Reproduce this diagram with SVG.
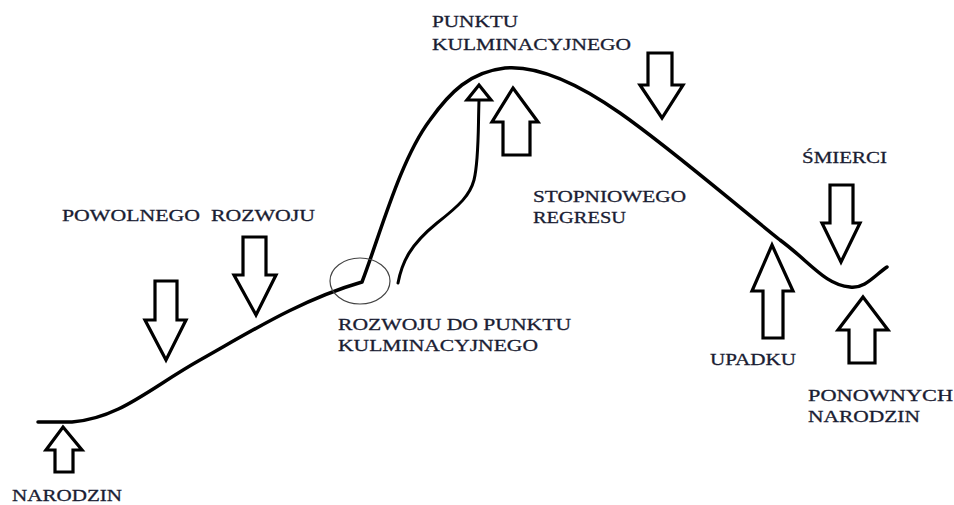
<svg xmlns="http://www.w3.org/2000/svg" width="954" height="505" viewBox="0 0 954 505">
  <style>
    .bg { fill: #ffffff; }
    .line { fill: none; stroke: #000; stroke-width: 3.5; stroke-linecap: round; stroke-linejoin: round; }
    .thin { fill: none; stroke: #000; stroke-width: 3; stroke-linecap: round; stroke-linejoin: round; }
    .arrow { fill: #ffffff; stroke: #000; stroke-width: 3.2; stroke-linejoin: miter; }
    .ring { fill: none; stroke: #444; stroke-width: 1.2; }
    .label { font-family: "Liberation Serif", "Times New Roman", serif; font-size: 17.5px; fill: #1a1d33; stroke: #1a1d33; stroke-width: 0.3; white-space: pre; }
  </style>
  <rect class="bg" x="0" y="0" width="954" height="505"/>

  <!-- life curve and the secondary rising stroke -->
  <g id="connectors">
    <path class="line" d="M38,422 L72,422 C120,418 150,388 200,360 C250,332 300,300 362,282 C380,235 400,160 430,120 C450,92 470,72 505,68 C540,65 580,85 620,113 C670,148 730,200 780,240 C810,262 825,285 850,287 C865,289 875,275 887,267"/>
    <path class="thin" d="M398,283 C402,262 410,245 437,223 C460,205 470,195 474,180 C479,160 478,130 479,100"/>
    <polygon class="arrow" points="479,85 491,100 467,100"/>
    <ellipse class="ring" cx="360" cy="281" rx="30" ry="23"/>
  </g>

  <g id="narodzin">
    <polygon class="arrow" points="63,427 82,450 73,450 73,472 55,472 55,450 46,450"/>
    <text class="label" x="12" y="501" textLength="110" lengthAdjust="spacingAndGlyphs">NARODZIN</text>
  </g>

  <g id="powolnego-rozwoju">
    <polygon class="arrow" points="155,281 177,281 177,320 186,320 166,360 145,320 155,320"/>
    <polygon class="arrow" points="243,237 266,237 266,275 276,275 256,315 234,275 243,275"/>
    <text class="label" x="62" y="221" textLength="253" lengthAdjust="spacingAndGlyphs" xml:space="preserve">POWOLNEGO  ROZWOJU</text>
  </g>

  <g id="rozwoj-do-punktu">
    <text class="label" x="338" y="330" textLength="233" lengthAdjust="spacingAndGlyphs">ROZWOJU DO PUNKTU</text>
    <text class="label" x="338" y="351" textLength="200" lengthAdjust="spacingAndGlyphs">KULMINACYJNEGO</text>
  </g>

  <g id="punkt-kulminacyjny">
    <polygon class="arrow" points="513,88 538,122 530,122 530,155 503,155 503,122 492,122"/>
    <text class="label" x="432" y="27" textLength="86" lengthAdjust="spacingAndGlyphs">PUNKTU</text>
    <text class="label" x="432" y="50" textLength="199" lengthAdjust="spacingAndGlyphs">KULMINACYJNEGO</text>
  </g>

  <g id="stopniowy-regres">
    <polygon class="arrow" points="648,53 672,53 672,85 683,85 662,118 640,85 648,85"/>
    <text class="label" x="533" y="202" textLength="153" lengthAdjust="spacingAndGlyphs">STOPNIOWEGO</text>
    <text class="label" x="533" y="223" textLength="93" lengthAdjust="spacingAndGlyphs">REGRESU</text>
  </g>

  <g id="smierc">
    <polygon class="arrow" points="830,185 853,185 853,223 860,223 841,262 822,223 830,223"/>
    <text class="label" x="802" y="163" textLength="85" lengthAdjust="spacingAndGlyphs">ŚMIERCI</text>
  </g>

  <g id="upadek">
    <polygon class="arrow" points="772,245 793,291 783,291 783,338 763,338 763,291 752,291"/>
    <text class="label" x="710" y="365" textLength="86" lengthAdjust="spacingAndGlyphs">UPADKU</text>
  </g>

  <g id="ponowne-narodziny">
    <polygon class="arrow" points="863,297 888,330 875,330 875,363 849,363 849,330 838,330"/>
    <text class="label" x="808" y="401" textLength="145" lengthAdjust="spacingAndGlyphs">PONOWNYCH</text>
    <text class="label" x="808" y="422" textLength="112" lengthAdjust="spacingAndGlyphs">NARODZIN</text>
  </g>
</svg>
